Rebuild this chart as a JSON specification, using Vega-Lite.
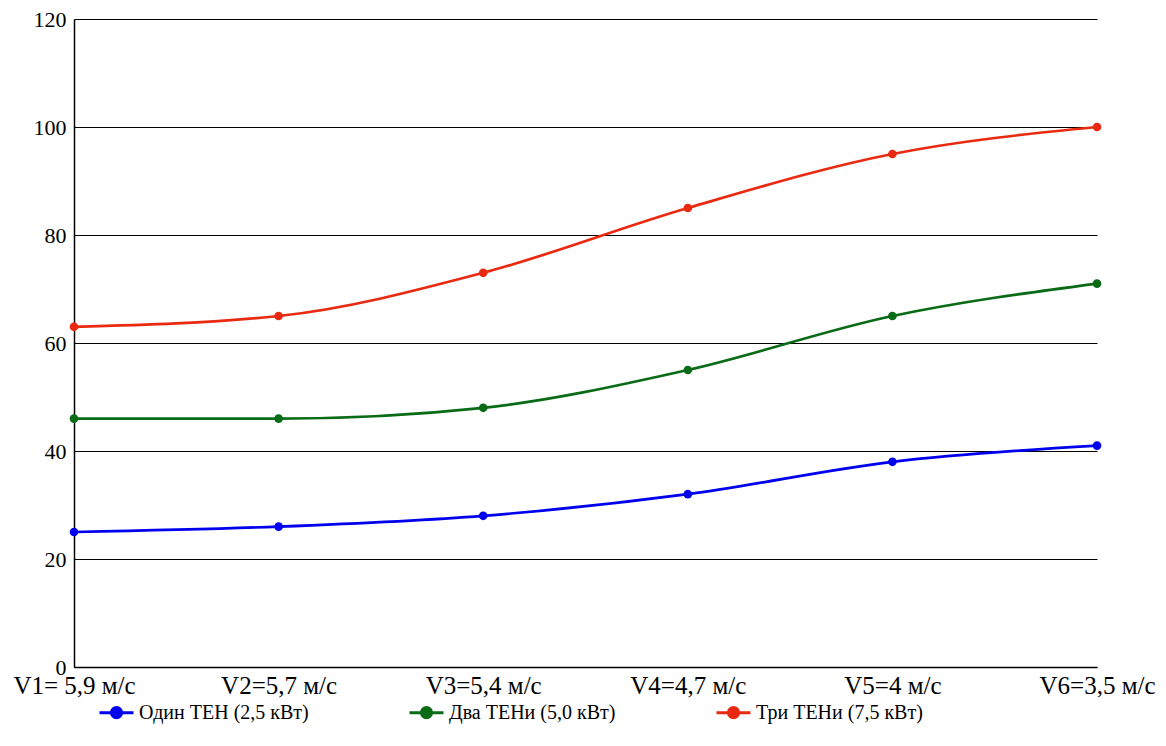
{
  "$schema": "https://vega.github.io/schema/vega-lite/v6.json",
  "width": 1023,
  "height": 648,
  "autosize": {"type": "none"},
  "padding": {"left": 74, "top": 19, "right": 69, "bottom": 79},
  "background": "white",
  "config": {
    "view": {"stroke": null}
  },
  "data": {
    "values": [
      {"v": "V1= 5,9 м/с", "s": "Один ТЕН (2,5 кВт)", "y": 25},
      {"v": "V2=5,7 м/с", "s": "Один ТЕН (2,5 кВт)", "y": 26},
      {"v": "V3=5,4 м/с", "s": "Один ТЕН (2,5 кВт)", "y": 28},
      {"v": "V4=4,7 м/с", "s": "Один ТЕН (2,5 кВт)", "y": 32},
      {"v": "V5=4 м/с", "s": "Один ТЕН (2,5 кВт)", "y": 38},
      {"v": "V6=3,5 м/с", "s": "Один ТЕН (2,5 кВт)", "y": 41},
      {"v": "V1= 5,9 м/с", "s": "Два ТЕНи (5,0 кВт)", "y": 46},
      {"v": "V2=5,7 м/с", "s": "Два ТЕНи (5,0 кВт)", "y": 46},
      {"v": "V3=5,4 м/с", "s": "Два ТЕНи (5,0 кВт)", "y": 48},
      {"v": "V4=4,7 м/с", "s": "Два ТЕНи (5,0 кВт)", "y": 55},
      {"v": "V5=4 м/с", "s": "Два ТЕНи (5,0 кВт)", "y": 65},
      {"v": "V6=3,5 м/с", "s": "Два ТЕНи (5,0 кВт)", "y": 71},
      {"v": "V1= 5,9 м/с", "s": "Три ТЕНи (7,5 кВт)", "y": 63},
      {"v": "V2=5,7 м/с", "s": "Три ТЕНи (7,5 кВт)", "y": 65},
      {"v": "V3=5,4 м/с", "s": "Три ТЕНи (7,5 кВт)", "y": 73},
      {"v": "V4=4,7 м/с", "s": "Три ТЕНи (7,5 кВт)", "y": 85},
      {"v": "V5=4 м/с", "s": "Три ТЕНи (7,5 кВт)", "y": 95},
      {"v": "V6=3,5 м/с", "s": "Три ТЕНи (7,5 кВт)", "y": 100}
    ]
  },
  "mark": {"type": "line", "interpolate": "monotone", "strokeWidth": 2.7, "point": {"filled": true, "size": 75, "opacity": 1}},
  "encoding": {
    "x": {
      "field": "v", "type": "ordinal", "sort": null,
      "scale": {"type": "point", "padding": 0},
      "axis": {"title": null, "labelAngle": 0, "ticks": false, "domainColor": "black", "domainWidth": 1.5, "labelPadding": 6, "grid": false, "labelFont": "Liberation Serif", "labelFontSize": 25, "labelColor": "black"}
    },
    "y": {
      "field": "y", "type": "quantitative",
      "scale": {"domain": [0, 120], "nice": false},
      "axis": {"title": null, "values": [0, 20, 40, 60, 80, 100, 120], "ticks": false, "domainColor": "black", "domainWidth": 1.5, "gridColor": "black", "gridWidth": 1.2, "gridOpacity": 1, "labelPadding": 8, "labelFont": "Liberation Serif", "labelFontSize": 22, "labelColor": "black"}
    },
    "color": {
      "field": "s", "type": "nominal", "sort": null,
      "scale": {"range": ["#0000ee", "#0a6b16", "#ea2a10"]},
      "legend": {
        "title": null,
        "orient": "none",
        "direction": "horizontal",
        "legendX": 24,
        "legendY": 675,
        "symbolType": "M-1,0H1M0.3,0A0.3,0.3 0 1,1 -0.3,0A0.3,0.3 0 1,1 0.3,0Z",
        "symbolSize": 1156,
        "symbolStrokeWidth": 3,
        "symbolOpacity": 1,
        "labelFont": "Liberation Serif",
        "labelFontSize": 20,
        "labelColor": "black",
        "labelOffset": 4,
        "columnPadding": 94,
        "labelLimit": 400
      }
    }
  }
}
